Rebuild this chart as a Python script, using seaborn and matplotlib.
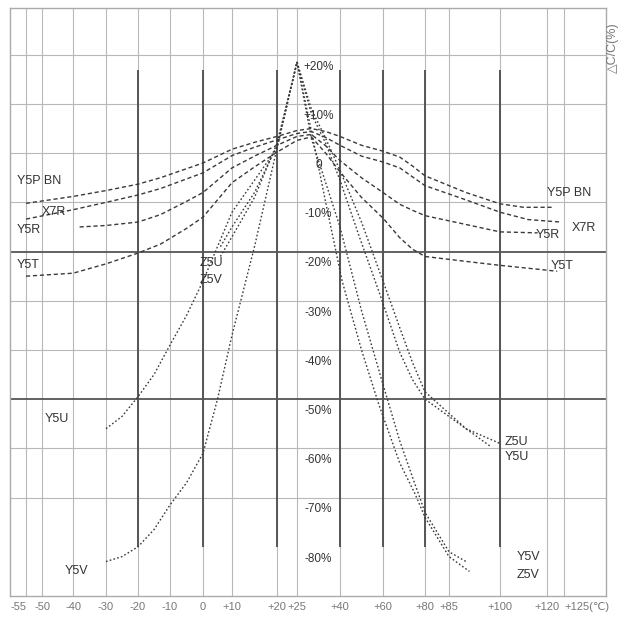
import numpy as np
import pandas as pd
import matplotlib
matplotlib.use("Agg")
import matplotlib.pyplot as plt
import seaborn as sns

# Axis ticks (deg C) and where each one sits on the printed, uneven axis
tick_temps = [-55, -50, -40, -30, -20, -10, 0, 10, 20, 25, 40, 60, 80, 85, 100, 120, 125]
tick_labels = ["-55", "-50", "-40", "-30", "-20", "-10", "0", "+10", "+20", "+25",
               "+40", "+60", "+80", "+85", "+100", "+120", "+125(℃)"]
tick_px = [26, 42, 73, 106, 138, 170, 203, 232, 277, 297, 340, 383, 425, 449, 500, 547, 564]
major_temps = [-20, 0, 20, 40, 60, 80, 100]

pct_levels = [20, 10, 0, -10, -20, -30, -40, -50, -60, -70, -80]
pct_labels = ["+20%", "+10%", "0", "-10%", "-20%", "-30%", "-40%",
              "-50%", "-60%", "-70%", "-80%"]

# Capacitance change curves (temp, dC/C %)
y5p_t = [-55, -40, -30, -20, -13, 0, 10, 15, 20, 25, 30, 35, 40, 50, 60, 68, 74, 80, 90, 100, 110, 122]
y5p_v = [-10.2, -8.8, -7.6, -6.3, -5.0, -2.0, 0.8, 2.2, 3.4, 4.6, 5.0, 4.4, 3.4, 1.6, 0.4, -0.8, -2.6,
         -4.6, -8.0, -10.3, -11.0, -11.0]

x7r_t = [-55, -40, -30, -20, -13, 0, 10, 15, 20, 25, 30, 35, 40, 50, 60, 68, 74, 80, 90, 100, 112, 124]
x7r_v = [-13.4, -11.5, -10.0, -8.5, -7.2, -4.0, -0.5, 1.2, 2.7, 4.0, 4.4, 3.2, 1.6, -0.6, -1.8, -3.0,
         -4.8, -6.6, -9.5, -12.0, -13.5, -14.0]

y5r_t = [-38, -30, -20, -13, -5, 0, 10, 15, 20, 25, 30, 35, 40, 50, 60, 68, 74, 80, 90, 100, 116]
y5r_v = [-15.0, -14.7, -14.0, -12.5, -9.8, -8.0, -3.0, -0.6, 1.6, 3.4, 3.8, 1.5, -1.5, -5.0, -8.0,
         -10.4, -11.6, -12.7, -14.5, -16.0, -16.2]

y5t_t = [-55, -40, -30, -20, -13, -5, 0, 10, 15, 20, 25, 30, 35, 40, 50, 60, 68, 74, 80, 90, 100, 123]
y5t_v = [-25.0, -24.4, -22.5, -20.3, -18.5, -15.3, -13.0, -6.0, -2.8, 0.2, 2.6, 3.3, 0.0, -3.8, -9.0,
         -13.2, -17.2, -19.5, -21.0, -22.0, -22.8, -24.0]

y5u_t = [-30, -25, -20, -15, -10, -5, 0, 5, 10, 15, 20, 25, 30, 35, 40, 49, 58, 68, 74, 80, 90, 97]
y5u_v = [-56.0, -53.5, -49.5, -45.0, -39.0, -33.0, -26.0, -19.0, -12.0, -5.5, 1.0, 18.5, 8.0, 2.0,
         -5.5, -17.0, -28.0, -40.5, -46.0, -50.0, -56.0, -59.5]

z5u_t = [6, 10, 15, 20, 25, 30, 35, 40, 50, 60, 68, 74, 80, 90, 100]
z5u_v = [-19.0, -15.0, -8.0, 1.5, 18.5, 9.0, 3.0, -3.5, -14.0, -26.0, -35.5, -42.5, -48.5, -56.0, -59.0]

y5v_t = [-30, -25, -20, -15, -10, -5, 0, 5, 10, 15, 20, 25, 29.5, 35, 41, 50, 58, 68, 75, 80, 85, 91]
y5v_v = [-83.0, -82.0, -80.0, -76.5, -71.5, -67.0, -61.0, -50.0, -37.0, -19.0, 1.0, 18.5, 6.0, -10.0,
         -26.0, -40.0, -51.0, -63.0, -69.0, -74.0, -82.0, -85.0]

z5v_t = [6, 10, 15, 20, 25, 30, 40, 50, 60, 68, 75, 80, 85, 90]
z5v_v = [-21.0, -17.0, -9.0, 2.0, 18.5, 3.0, -15.0, -32.0, -47.0, -58.5, -67.0, -73.0, -81.0, -83.0]

curves = {
    "Y5P BN": (y5p_t, y5p_v, "flat"),
    "X7R": (x7r_t, x7r_v, "flat"),
    "Y5R": (y5r_t, y5r_v, "flat"),
    "Y5T": (y5t_t, y5t_v, "flat"),
    "Y5U": (y5u_t, y5u_v, "peak"),
    "Z5U": (z5u_t, z5u_v, "peak"),
    "Y5V": (y5v_t, y5v_v, "peak"),
    "Z5V": (z5v_t, z5v_v, "peak"),
}

frames = []
for name, (t, v, grp) in curves.items():
    frames.append(pd.DataFrame({"temp": t, "dc": v, "curve": name, "group": grp}))
df = pd.concat(frames, ignore_index=True)

# curve name tags: (text, temp, pct, ha)
tags = [
    ("Y5P BN", -57.8, -5.7, "left"), ("X7R", -50, -12.0, "left"),
    ("Y5R", -57.8, -15.6, "left"), ("Y5T", -57.8, -22.8, "left"),
    ("Y5U", -49, -54.0, "left"), ("Y5V", -42.6, -85.0, "left"),
    ("Z5U", -1, -22.4, "left"), ("Z5V", -1, -25.8, "left"),
    ("Y5P BN", 120, -8.1, "left"), ("X7R", 127.4, -15.2, "left"),
    ("Y5R", 115, -16.7, "left"), ("Y5T", 121, -23.0, "left"),
    ("Z5U", 102, -58.7, "left"), ("Y5U", 102, -61.8, "left"),
    ("Y5V", 107, -82.0, "left"), ("Z5V", 107, -85.8, "left"),
]

sns.set_theme(style="white")
plt.rcParams["font.family"] = ["Liberation Sans", "DejaVu Sans"]

fig = plt.figure(figsize=(6.24, 6.17), dpi=100)
ax = fig.add_axes([10 / 624, 21 / 617, 596 / 624, 588 / 617])

edge_temps = [-60] + tick_temps + [137.4]
edge_px = [10] + tick_px + [606]


def fwd(t):
    return np.interp(t, edge_temps, edge_px)


def inv(p):
    return np.interp(p, edge_px, edge_temps)


ax.set_xscale("function", functions=(fwd, inv))
ax.set_xlim(-60, 137.4)
ax.set_ylim(-90, 29.5)

# grid
ax.vlines(tick_temps, -90, 29.5, color="#b8b8b8", lw=0.8, zorder=0)
ax.vlines(major_temps, -80, 17, color="#555555", lw=1.4, zorder=1)
ax.hlines([20, 10, 0, -10, -30, -40, -60, -70], -60, 137.4, color="#b8b8b8", lw=0.8, zorder=0)
ax.hlines([-20, -50], -60, 137.4, color="#555555", lw=1.3, zorder=1)

sns.lineplot(
    data=df, x="temp", y="dc", hue="curve", style="group",
    palette={n: "#3a3a3a" for n in curves}, dashes={"flat": (3, 2), "peak": (1.2, 1.6)},
    estimator=None, sort=False, lw=1.0, legend=False, ax=ax, zorder=3,
)

for lvl, lab in zip(pct_levels, pct_labels):
    ax.text(32.5, lvl - 2.4, lab, ha="center", va="center", fontsize=8.5, color="#333333")

for text, t, p, ha in tags:
    ax.text(t, p, text, ha=ha, va="center", fontsize=9, color="#333333")

ax.set_xticks(tick_temps, tick_labels)
ax.set_yticks([])
ax.tick_params(axis="x", length=0, pad=4, labelsize=8, labelcolor="#777777")
xt = ax.get_xticklabels()
xt[0].set_ha("right")
xt[-1].set_ha("left")
ax.set_xlabel("")
ax.set_ylabel("")
for s in ax.spines.values():
    s.set_color("#aaaaaa")
    s.set_linewidth(1.0)

fig.text(613 / 624, 1 - 48 / 617, "△C/C(%)", rotation=90, ha="center", va="center",
         fontsize=9, color="#777777")

fig.savefig("out.png", dpi=100)
